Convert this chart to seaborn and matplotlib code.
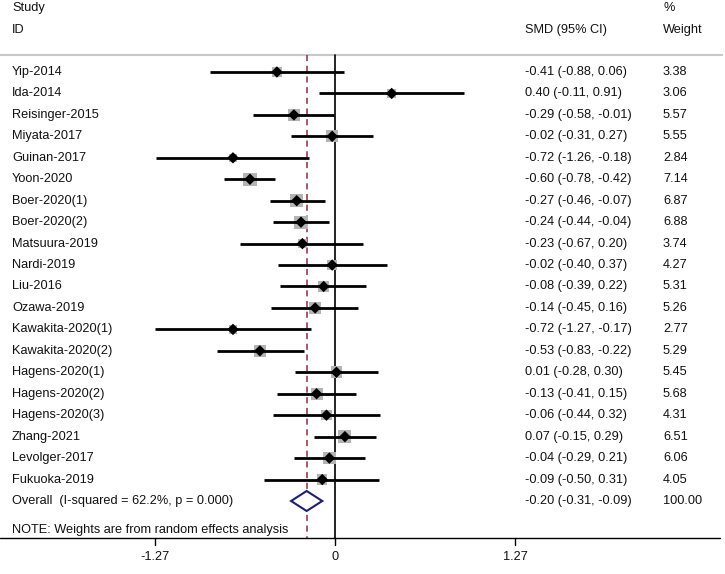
import numpy as np
import pandas as pd
import matplotlib
matplotlib.use("Agg")
import matplotlib.pyplot as plt
import seaborn as sns

studies = ["Yip-2014", "Ida-2014", "Reisinger-2015", "Miyata-2017", "Guinan-2017",
           "Yoon-2020", "Boer-2020(1)", "Boer-2020(2)", "Matsuura-2019", "Nardi-2019",
           "Liu-2016", "Ozawa-2019", "Kawakita-2020(1)", "Kawakita-2020(2)",
           "Hagens-2020(1)", "Hagens-2020(2)", "Hagens-2020(3)", "Zhang-2021",
           "Levolger-2017", "Fukuoka-2019"]
smd = [-0.41, 0.40, -0.29, -0.02, -0.72, -0.60, -0.27, -0.24, -0.23, -0.02,
       -0.08, -0.14, -0.72, -0.53, 0.01, -0.13, -0.06, 0.07, -0.04, -0.09]
ci_low = [-0.88, -0.11, -0.58, -0.31, -1.26, -0.78, -0.46, -0.44, -0.67, -0.40,
          -0.39, -0.45, -1.27, -0.83, -0.28, -0.41, -0.44, -0.15, -0.29, -0.50]
ci_high = [0.06, 0.91, -0.01, 0.27, -0.18, -0.42, -0.07, -0.04, 0.20, 0.37,
           0.22, 0.16, -0.17, -0.22, 0.30, 0.15, 0.32, 0.29, 0.21, 0.31]
weights = [3.38, 3.06, 5.57, 5.55, 2.84, 7.14, 6.87, 6.88, 3.74, 4.27,
           5.31, 5.26, 2.77, 5.29, 5.45, 5.68, 4.31, 6.51, 6.06, 4.05]
overall_label = "Overall  (I-squared = 62.2%, p = 0.000)"
overall = [-0.20, -0.31, -0.09]
overall_weight = "100.00"
xticks = [-1.27, 0, 1.27]
xtick_labels = ["-1.27", "0", "1.27"]

W, H = 725, 574
PX0, PXU = 335.0, 141.7  # pixel of zero, pixels per unit
ROW0, ROWS = 72.0, 21.45

def row(ypx):
    return (ypx - ROW0) / ROWS

sns.set_theme(style="white")
plt.rcParams["font.family"] = ["Liberation Sans", "DejaVu Sans"]
FS = 9.2
TC = "#111111"

fig = plt.figure(figsize=(W / 100, H / 100), dpi=100)
ax = fig.add_axes([0, 0, 1, 1])
ax.set_xlim(-PX0 / PXU, (W - PX0) / PXU)
ax.set_ylim(row(H), row(0))
ax.axis("off")

n = len(studies)
df = pd.DataFrame({"study": studies, "smd": smd, "lo": ci_low, "hi": ci_high,
                   "w": weights, "y": np.arange(n, dtype=float)})
df["box_pt"] = (13.5 * np.sqrt(df["w"] / 7.14) * 0.72) ** 2

tx = ax.get_yaxis_transform()

def txt(xpx, y, s, **kw):
    ax.text(xpx / W, y, s, transform=tx, fontsize=FS, va="center", ha="left", color=TC, **kw)

# header
txt(12, row(8), "Study")
txt(12, row(30), "ID")
txt(525, row(30), "SMD (95% CI)")
txt(663, row(8), "%")
txt(663, row(30), "Weight")
ax.plot([0, 723 / W], [row(55), row(55)], transform=tx, color="#c8c8c8", lw=1.5,
        solid_capstyle="butt")

# reference lines
ytop, ybot = row(55), row(538)
ax.plot([0, 0], [ytop, ybot], color="black", lw=1.2)
ax.plot([overall[0], overall[0]], [ytop, ybot], color="#8b2e40", lw=1.1,
        dashes=(4, 3))

# boxes
sns.scatterplot(data=df, x="smd", y="y", size="box_pt",
                sizes=(df["box_pt"].min(), df["box_pt"].max()),
                marker="s", color="#b4b4b4", edgecolor="none", legend=False, ax=ax, zorder=2)
# CI lines
ax.hlines(df["y"], df["lo"], df["hi"], color="black", lw=2.0, zorder=3)
# point estimates
sns.scatterplot(data=df, x="smd", y="y", marker="D", s=34, color="black",
                edgecolor="none", legend=False, ax=ax, zorder=4)

for i, r in df.iterrows():
    txt(12, r["y"], r["study"])
    txt(525, r["y"], f"{r['smd']:.2f} ({r['lo']:.2f}, {r['hi']:.2f})")
    txt(663, r["y"], f"{r['w']:.2f}")

# overall
yo = float(n)
h = 10 / ROWS
ax.fill([overall[1], overall[0], overall[2], overall[0]], [yo, yo - h, yo, yo + h],
        facecolor="white", edgecolor="#1f1f6e", lw=1.5, zorder=5)
txt(12, yo, overall_label)
txt(525, yo, f"{overall[0]:.2f} ({overall[1]:.2f}, {overall[2]:.2f})")
txt(663, yo, overall_weight)

txt(12, row(530), "NOTE: Weights are from random effects analysis")

# x axis
ax.plot([0, 720 / W], [ybot, ybot], transform=tx, color="black", lw=1.0)
for t, lab in zip(xticks, xtick_labels):
    ax.plot([t, t], [ybot, row(545)], color="black", lw=1.0)
    ax.text(t, row(557), lab, fontsize=FS, va="center", ha="center", color=TC)

fig.savefig("out.png", dpi=100)
